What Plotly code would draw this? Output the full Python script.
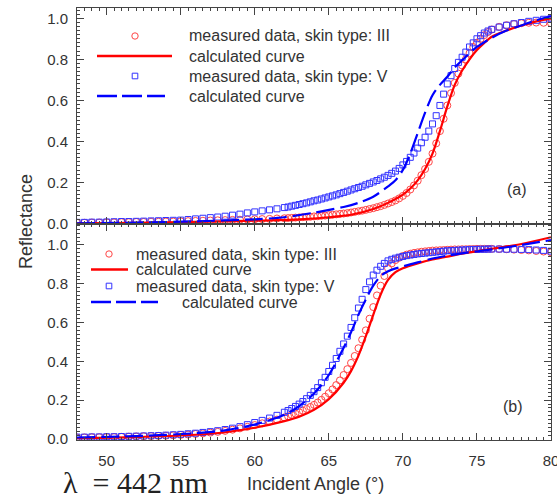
import plotly.graph_objects as go
from plotly.subplots import make_subplots

# ---------------- data ----------------
angle = [48.0, 48.5, 49.0, 49.5, 50.0, 50.5, 51.0, 51.5, 52.0, 52.5, 53.0, 53.5, 54.0, 54.5,
         55.0, 55.5, 56.0, 56.5, 57.0, 57.5, 58.0, 58.5, 59.0, 59.5, 60.0, 60.5, 61.0, 61.5, 62.0,
         62.25, 62.5, 62.75, 63.0, 63.25, 63.5, 63.75, 64.0, 64.25, 64.5, 64.75, 65.0, 65.25, 65.5, 65.75,
         66.0, 66.25, 66.5, 66.75, 67.0, 67.25, 67.5, 67.75, 68.0, 68.25, 68.5, 68.75, 69.0, 69.25, 69.5, 69.75,
         70.0, 70.25, 70.5, 70.75, 71.0, 71.25, 71.5, 71.75, 72.0, 72.25, 72.5, 72.75, 73.0, 73.25, 73.5, 73.75,
         74.0, 74.25, 74.5, 74.75, 75.0, 75.25, 75.5, 75.75, 76.0,
         76.5, 77.0, 77.5, 78.0, 78.5, 79.0, 79.5, 80.0]

# panel (a)
a_meas_III = [0.003, 0.003, 0.004, 0.004, 0.005, 0.005, 0.006, 0.006, 0.007, 0.007, 0.008, 0.008, 0.009, 0.009,
              0.010, 0.011, 0.012, 0.013, 0.014, 0.015, 0.016, 0.017, 0.018, 0.019, 0.020, 0.021, 0.022, 0.024, 0.025,
              0.026, 0.027, 0.028, 0.029, 0.030, 0.031, 0.032, 0.034, 0.035, 0.037, 0.038, 0.040, 0.042, 0.044, 0.046,
              0.048, 0.050, 0.053, 0.056, 0.059, 0.062, 0.066, 0.070, 0.074, 0.079, 0.084, 0.090, 0.097, 0.104, 0.112, 0.122,
              0.134, 0.148, 0.165, 0.185, 0.208, 0.235, 0.265, 0.30, 0.34, 0.39, 0.45, 0.51, 0.575, 0.635, 0.685, 0.73,
              0.77, 0.80, 0.83, 0.86, 0.88, 0.90, 0.918, 0.933, 0.945,
              0.958, 0.966, 0.972, 0.976, 0.978, 0.979, 0.978, 0.976]
a_meas_V = [0.005, 0.005, 0.006, 0.006, 0.007, 0.008, 0.009, 0.009, 0.010, 0.011, 0.012, 0.013, 0.014, 0.015,
            0.016, 0.019, 0.022, 0.025, 0.028, 0.031, 0.035, 0.040, 0.045, 0.051, 0.056, 0.061, 0.066, 0.071, 0.077,
            0.080, 0.084, 0.088, 0.092, 0.096, 0.100, 0.105, 0.110, 0.114, 0.119, 0.124, 0.129, 0.134, 0.139, 0.145,
            0.151, 0.157, 0.163, 0.169, 0.175, 0.181, 0.188, 0.195, 0.202, 0.209, 0.217, 0.225, 0.234, 0.244, 0.255, 0.268,
            0.285, 0.302, 0.322, 0.343, 0.367, 0.393, 0.42, 0.45, 0.485, 0.525, 0.575, 0.63, 0.68, 0.72, 0.755, 0.785,
            0.81, 0.835, 0.86, 0.88, 0.90, 0.915, 0.928, 0.938, 0.946,
            0.957, 0.966, 0.973, 0.979, 0.985, 0.99, 0.995, 1.0]
a_calc_III_x = [48, 52, 56, 60, 63, 65, 66.5, 68, 69, 70, 70.5, 71, 71.5, 72, 72.5, 73, 73.5, 74, 74.5, 75, 75.5, 76, 77, 78, 79, 80]
a_calc_III_y = [0.0, 0.003, 0.007, 0.013, 0.02, 0.03, 0.042, 0.07, 0.1, 0.14, 0.17, 0.21, 0.265, 0.34, 0.45, 0.57, 0.675, 0.745, 0.8, 0.845, 0.88, 0.91, 0.94, 0.965, 0.985, 1.0]
a_calc_V_x = [48, 52, 56, 60, 62, 64, 66, 67, 68, 69, 69.5, 70, 70.5, 71, 71.5, 72, 72.5, 73, 73.5, 74, 75, 76, 77, 78, 79, 80]
a_calc_V_y = [0.0, 0.004, 0.01, 0.02, 0.03, 0.052, 0.08, 0.1, 0.13, 0.18, 0.21, 0.26, 0.34, 0.44, 0.54, 0.625, 0.675, 0.715, 0.76, 0.795, 0.86, 0.905, 0.94, 0.965, 0.99, 1.01]

# panel (b)
b_meas_III = [0.008, 0.008, 0.009, 0.009, 0.010, 0.010, 0.011, 0.012, 0.013, 0.014, 0.015, 0.016, 0.017, 0.019,
              0.021, 0.023, 0.026, 0.029, 0.033, 0.037, 0.042, 0.048, 0.055, 0.063, 0.072, 0.081, 0.090, 0.100, 0.111,
              0.117, 0.124, 0.131, 0.138, 0.146, 0.155, 0.165, 0.176, 0.188, 0.202, 0.218, 0.236, 0.256, 0.278, 0.302,
              0.33, 0.36, 0.392, 0.428, 0.468, 0.512, 0.56, 0.62, 0.68, 0.74, 0.79, 0.84, 0.88, 0.905, 0.922, 0.934,
              0.943, 0.950, 0.955, 0.959, 0.962, 0.965, 0.967, 0.969, 0.971, 0.972, 0.973, 0.974, 0.975, 0.976, 0.977, 0.977,
              0.978, 0.978, 0.979, 0.979, 0.980, 0.980, 0.980, 0.980, 0.980,
              0.979, 0.978, 0.976, 0.974, 0.972, 0.969, 0.966, 0.962]
b_meas_V = [0.010, 0.010, 0.011, 0.011, 0.012, 0.012, 0.013, 0.014, 0.015, 0.016, 0.017, 0.018, 0.020, 0.022,
            0.024, 0.027, 0.030, 0.034, 0.038, 0.043, 0.049, 0.056, 0.064, 0.074, 0.085, 0.096, 0.108, 0.122, 0.138,
            0.147, 0.157, 0.168, 0.180, 0.193, 0.208, 0.225, 0.244, 0.265, 0.29, 0.318, 0.348, 0.38, 0.415, 0.452,
            0.49, 0.53, 0.575, 0.625, 0.675, 0.72, 0.77, 0.81, 0.845, 0.87, 0.89, 0.905, 0.918, 0.926, 0.932, 0.937,
            0.941, 0.945, 0.948, 0.951, 0.954, 0.956, 0.958, 0.960, 0.962, 0.964, 0.966, 0.968, 0.970, 0.971, 0.972, 0.973,
            0.974, 0.975, 0.976, 0.977, 0.977, 0.978, 0.978, 0.979, 0.979,
            0.979, 0.978, 0.978, 0.977, 0.976, 0.974, 0.972, 0.968]
b_calc_III_x = [48, 52, 56, 58, 60, 62, 63, 64, 65, 66, 66.5, 67, 67.5, 68, 68.5, 69, 69.5, 70, 71, 72, 73, 74, 76, 78, 80]
b_calc_III_y = [0.005, 0.01, 0.022, 0.035, 0.058, 0.092, 0.115, 0.15, 0.205, 0.29, 0.35, 0.43, 0.53, 0.64, 0.745, 0.82, 0.86, 0.88, 0.905, 0.925, 0.94, 0.955, 0.98, 1.005, 1.04]
b_calc_V_x = [48, 52, 56, 58, 60, 62, 63, 64, 65, 66, 66.5, 67, 67.5, 68, 68.5, 69, 70, 71, 72, 73, 74, 76, 78, 80]
b_calc_V_y = [0.008, 0.015, 0.03, 0.045, 0.075, 0.125, 0.17, 0.235, 0.33, 0.47, 0.55, 0.64, 0.72, 0.79, 0.84, 0.865, 0.89, 0.91, 0.93, 0.945, 0.957, 0.977, 1.0, 1.025]

x_ticks = [50, 55, 60, 65, 70, 75, 80]
y_ticks = [0.0, 0.2, 0.4, 0.6, 0.8, 1.0]

leg_meas_III = "measured data, skin type: III"
leg_meas_V = "measured data, skin type: V"
leg_calc = "calculated curve"

# ---------------- style ----------------
RED_M = "rgb(255,70,70)"
RED_L = "rgb(255,0,0)"
BLUE_M = "rgb(50,50,255)"
BLUE_L = "rgb(0,0,255)"
DASH = "18px,6px"
FONT = "Arial, Liberation Sans, sans-serif"
TXT = "#333333"
AX = "#444444"

fig = make_subplots(rows=2, cols=1, shared_xaxes=True, vertical_spacing=0)

def add_panel(row, mIII, mV, cIIIx, cIIIy, cVx, cVy):
    fig.add_trace(go.Scatter(x=angle, y=mIII, mode="markers", showlegend=False,
                             marker=dict(symbol="circle-open", size=7, color=RED_M, line=dict(width=1))),
                  row=row, col=1)
    fig.add_trace(go.Scatter(x=angle, y=mV, mode="markers", showlegend=False,
                             marker=dict(symbol="square-open", size=6, color=BLUE_M, line=dict(width=1))),
                  row=row, col=1)
    fig.add_trace(go.Scatter(x=cIIIx, y=cIIIy, mode="lines", showlegend=False,
                             line=dict(color=RED_L, width=2.2, shape="spline", smoothing=0.8)),
                  row=row, col=1)
    fig.add_trace(go.Scatter(x=cVx, y=cVy, mode="lines", showlegend=False,
                             line=dict(color=BLUE_L, width=2.2, dash=DASH, shape="spline", smoothing=0.8)),
                  row=row, col=1)

add_panel(1, a_meas_III, a_meas_V, a_calc_III_x, a_calc_III_y, a_calc_V_x, a_calc_V_y)
add_panel(2, b_meas_III, b_meas_V, b_calc_III_x, b_calc_III_y, b_calc_V_x, b_calc_V_y)

axis_common = dict(showline=True, linecolor=AX, linewidth=1, mirror="ticks", ticks="inside",
                   tickcolor=AX, showgrid=False, zeroline=False, automargin=False,
                   ticklabeloverflow="allow",
                   tickfont=dict(family=FONT, size=15, color=TXT))

fig.update_xaxes(range=[48, 80], tickvals=x_ticks, ticklen=7, ticklabelstandoff=7,
                 minor=dict(ticks="inside", dtick=0.5, ticklen=3, tickcolor=AX, showgrid=False),
                 **axis_common)
fig.update_xaxes(showticklabels=False, row=1, col=1)
fig.update_yaxes(tickvals=y_ticks, tickformat=".1f", ticklen=7, ticklabelstandoff=5,
                 minor=dict(ticks="inside", dtick=0.02, ticklen=3, tickcolor=AX, showgrid=False),
                 **axis_common)
fig.update_yaxes(range=[-0.003, 1.05], domain=[0.5, 1.0], row=1, col=1)
fig.update_yaxes(range=[-0.005, 1.108], domain=[0.0, 0.5], row=2, col=1)

# ---------------- layout / legend ----------------
L, R, T, B = 77, 551, 8, 440
W, H = 557, 497

def px(x):
    return (x - L) / (R - L)

def py(y):
    return (B - y) / (B - T)

annotations = []
shapes = []

def text_at(x, y, text, size, xanchor="center", family=FONT, color=TXT, angle=0):
    annotations.append(dict(x=px(x), y=py(y), xref="paper", yref="paper", text=text, showarrow=False,
                            xanchor=xanchor, yanchor="middle", textangle=angle, borderpad=0,
                            font=dict(family=family, size=size, color=color)))

def legend_line(x0, x1, y, color, dash=None):
    shapes.append(dict(type="line", xref="paper", yref="paper", x0=px(x0), x1=px(x1), y0=py(y), y1=py(y),
                       line=dict(color=color, width=2.5, dash=dash if dash else "solid")))

def legend_marker(cx, cy, kind, color):
    r = 3.2 if kind == "circle" else 2.8
    shapes.append(dict(type=kind, xref="paper", yref="paper", x0=px(cx - r), x1=px(cx + r),
                       y0=py(cy + r), y1=py(cy - r), line=dict(color=color, width=1)))

# top legend
legend_marker(135, 36, "circle", RED_M)
text_at(188, 36, leg_meas_III, 16, "left")
legend_line(97, 172, 56, RED_L)
text_at(188, 56, leg_calc, 16, "left")
legend_marker(135, 76, "rect", BLUE_M)
text_at(188, 76, leg_meas_V, 16, "left")
legend_line(97, 165, 96, BLUE_L, "20px,5px")
text_at(188, 96, leg_calc, 16, "left")

# bottom legend
legend_marker(109, 254, "circle", RED_M)
text_at(135, 254, leg_meas_III, 16, "left")
legend_line(91, 128, 269.5, RED_L)
text_at(135, 269.5, leg_calc, 16, "left")
legend_marker(109, 286, "rect", BLUE_M)
text_at(135, 286, leg_meas_V, 16, "left")
legend_line(91, 158, 302, BLUE_L, "20px,5px")
text_at(181, 302, leg_calc, 16, "left")

# panel labels and titles
text_at(517, 189, "(a)", 16)
text_at(513, 406, "(b)", 16)
text_at(26, 222, "Reflectance", 18, angle=-90)
text_at(315, 484, "Incident Angle (°)", 18)
text_at(62, 482, "λ  = 442 nm", 30, "left", family="Liberation Serif, DejaVu Serif, serif", color="#222222")

fig.update_layout(width=W, height=H, margin=dict(l=L, r=W - R, t=T, b=H - B, autoexpand=False),
                  paper_bgcolor="white", plot_bgcolor="white", showlegend=False,
                  annotations=annotations, shapes=shapes)

fig.write_html("out.html", config={"displayModeBar": False},
               post_script="document.body.style.margin='0';document.body.style.overflow='hidden';")
